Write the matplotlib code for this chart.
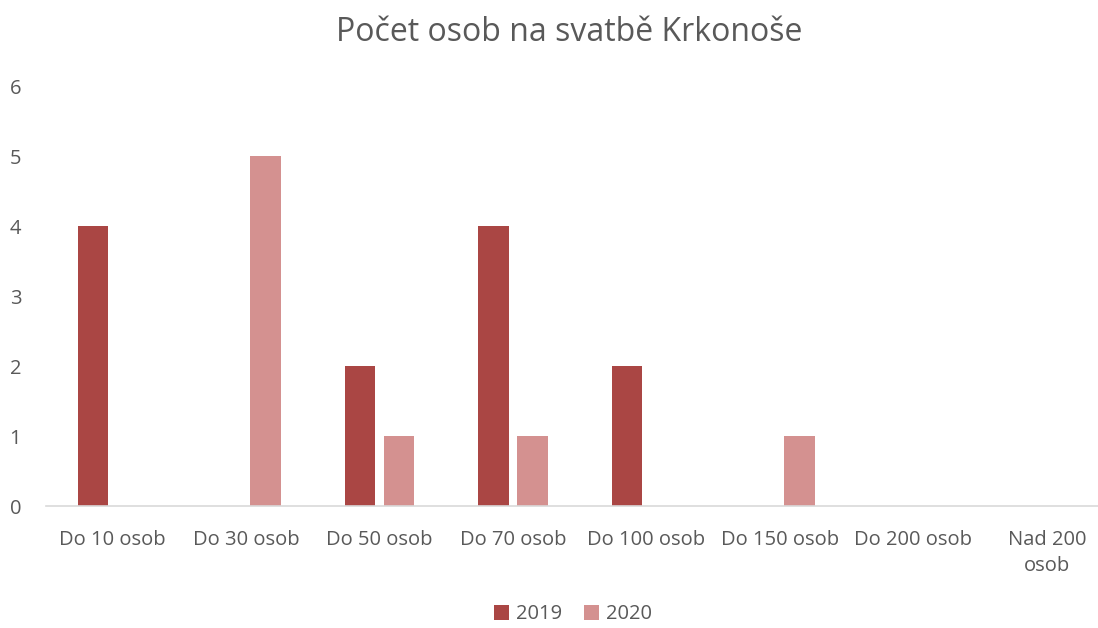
import numpy as np
import matplotlib.pyplot as plt

categories = ["Do 10 osob", "Do 30 osob", "Do 50 osob", "Do 70 osob",
              "Do 100 osob", "Do 150 osob", "Do 200 osob", "Nad 200\nosob"]
v2019 = [4, 0, 2, 4, 2, 0, 0, 0]
v2020 = [0, 5, 1, 1, 0, 1, 0, 0]

c2019 = "#AA4644"
c2020 = "#D49190"
grey = "#595959"

plt.rcParams['font.family'] = ['Open Sans', 'DejaVu Sans']

fig = plt.figure(figsize=(10.98, 6.28), dpi=100)
ax = fig.add_axes([45.75 / 1098, 122 / 628, 1068 / 1098, 420 / 628])

x = np.arange(len(categories))
w = 0.225
off = 0.146
ax.bar(x - off, v2019, w, color=c2019, label="2019")
ax.bar(x + off, v2020, w, color=c2020, label="2020")

ax.set_xlim(-0.5, len(categories) - 0.5)
ax.set_ylim(0, 6)
ax.set_yticks(range(0, 7))
ax.set_xticks(x)
ax.set_xticklabels(categories, linespacing=1.45)
ax.tick_params(axis='both', length=0, colors=grey, labelsize=14.5)
ax.tick_params(axis='x', pad=17)
ax.tick_params(axis='y', pad=26)
for lab in ax.get_yticklabels():
    lab.set_horizontalalignment('left')

for s in ['top', 'right', 'left']:
    ax.spines[s].set_visible(False)
ax.spines['bottom'].set_color("#D9D9D9")
ax.spines['bottom'].set_linewidth(1.2)

fig.text(0.518, 0.948, "Počet osob na svatbě Krkonoše", ha='center', va='center',
         fontsize=23, color=grey)

fig.legend(loc='center', bbox_to_anchor=(0.522, 0.022), ncol=2, frameon=False,
           fontsize=14.5, handlelength=0.75, handleheight=0.75, handletextpad=0.35,
           columnspacing=1.1, labelcolor=grey, borderpad=0.2)

fig.savefig("out.png", dpi=100)
